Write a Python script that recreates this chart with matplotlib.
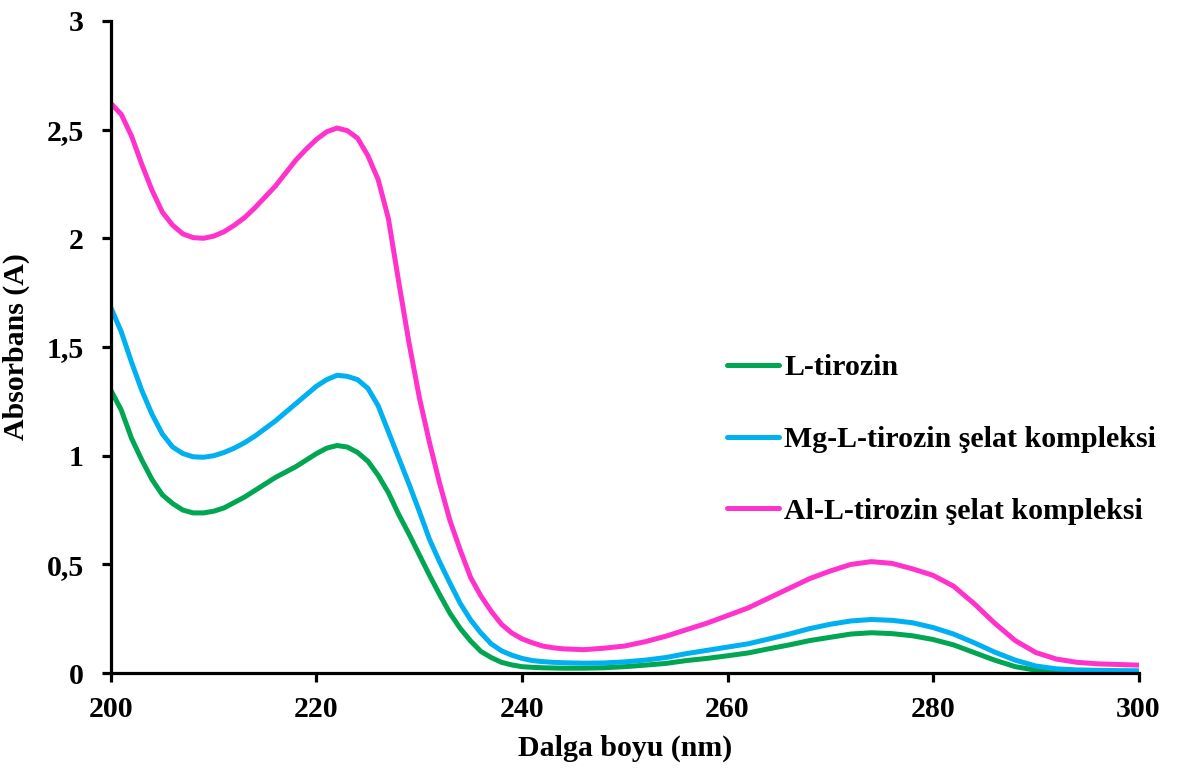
import numpy as np
import matplotlib
matplotlib.use("Agg")
import matplotlib.pyplot as plt

plt.rcParams["font.family"] = "Liberation Serif"
plt.rcParams["font.weight"] = "bold"

# wavelength (nm): 1 nm steps up to 244, then 2 nm steps
wavelength = np.array(list(range(200, 245)) + list(range(246, 301, 2)))

# L-tirozin
l_tirozin = np.array([
    1.30, 1.21, 1.08, 0.98, 0.89, 0.82, 0.78, 0.75, 0.737, 0.737,
    0.745, 0.76, 0.785, 0.81, 0.84, 0.87, 0.90, 0.925, 0.95, 0.98,
    1.01, 1.035, 1.047, 1.04, 1.015, 0.975, 0.91, 0.83, 0.73, 0.64,
    0.545, 0.45, 0.36, 0.275, 0.205, 0.148, 0.10, 0.072, 0.05, 0.038,
    0.03, 0.027, 0.025, 0.024, 0.023,
    0.023, 0.025, 0.03, 0.037, 0.045, 0.058, 0.068, 0.08, 0.093, 0.112,
    0.13, 0.15, 0.165, 0.18, 0.186, 0.182, 0.172, 0.155, 0.13, 0.095,
    0.06, 0.03, 0.014, 0.007, 0.004, 0.003, 0.003, 0.003])

# Mg-L-tirozin
mg_tirozin = np.array([
    1.68, 1.57, 1.43, 1.30, 1.19, 1.10, 1.04, 1.01, 0.995, 0.993,
    1.00, 1.015, 1.035, 1.06, 1.09, 1.125, 1.16, 1.20, 1.24, 1.28,
    1.32, 1.35, 1.37, 1.365, 1.35, 1.31, 1.23, 1.11, 0.99, 0.87,
    0.745, 0.615, 0.51, 0.413, 0.32, 0.245, 0.185, 0.135, 0.103, 0.083,
    0.068, 0.058, 0.053, 0.05, 0.048,
    0.046, 0.047, 0.052, 0.06, 0.072, 0.09, 0.105, 0.12, 0.135, 0.157,
    0.18, 0.205, 0.225, 0.24, 0.247, 0.243, 0.232, 0.21, 0.18, 0.14,
    0.097, 0.06, 0.033, 0.02, 0.015, 0.013, 0.012, 0.011])

# Al-L-tirozin
al_tirozin = np.array([
    2.62, 2.57, 2.47, 2.34, 2.22, 2.12, 2.06, 2.02, 2.003, 2.0,
    2.01, 2.03, 2.06, 2.095, 2.14, 2.19, 2.24, 2.30, 2.36, 2.41,
    2.455, 2.49, 2.507, 2.495, 2.46, 2.38, 2.27, 2.09, 1.80, 1.52,
    1.27, 1.06, 0.87, 0.70, 0.565, 0.44, 0.355, 0.285, 0.225, 0.185,
    0.158, 0.14, 0.125, 0.117, 0.112,
    0.108, 0.115, 0.125, 0.145, 0.17, 0.2, 0.23, 0.265, 0.30, 0.345,
    0.39, 0.435, 0.47, 0.50, 0.513, 0.505, 0.48, 0.45, 0.40, 0.32,
    0.23, 0.15, 0.095, 0.065, 0.05, 0.043, 0.04, 0.037])

labels = ["L-tirozin", "Mg-L-tirozin şelat kompleksi", "Al-L-tirozin şelat kompleksi"]
colors = ["#00A651", "#00B0F0", "#FF33CC"]

x_ticks = [200, 220, 240, 260, 280, 300]
y_ticks = [0, 0.5, 1, 1.5, 2, 2.5, 3]
y_ticklabels = ["0", "0,5", "1", "1,5", "2", "2,5", "3"]

fig = plt.figure(figsize=(11.77, 7.72), dpi=100)
ax = fig.add_axes([0.0943, 0.128, 0.873, 0.845])

for y, lab, c in zip([l_tirozin, mg_tirozin, al_tirozin], labels, colors):
    ax.plot(wavelength, y, color=c, lw=3.6, label=lab,
            solid_joinstyle="round", solid_capstyle="round")

ax.set_xlim(200, 300)
ax.set_ylim(0, 3)
ax.set_xticks(x_ticks)
ax.set_yticks(y_ticks)
ax.set_yticklabels(y_ticklabels)

for s in ["top", "right"]:
    ax.spines[s].set_visible(False)
for s in ["left", "bottom"]:
    ax.spines[s].set_linewidth(2.3)

ax.tick_params(axis="both", direction="out", length=6.5, width=2.3,
               labelsize=21.5)
ax.tick_params(axis="x", pad=10)
ax.tick_params(axis="y", pad=13)

ax.set_xlabel("Dalga boyu (nm)", fontsize=21.5, fontweight="bold", labelpad=8)
ax.set_ylabel("Absorbans (A)", fontsize=21.5, fontweight="bold", labelpad=12)

ax.legend(loc="upper left", bbox_to_anchor=(0.573, 0.53), frameon=False,
          fontsize=21.5, handlelength=1.75, handletextpad=0.18,
          labelspacing=1.5)

fig.savefig("out.png", dpi=100)
